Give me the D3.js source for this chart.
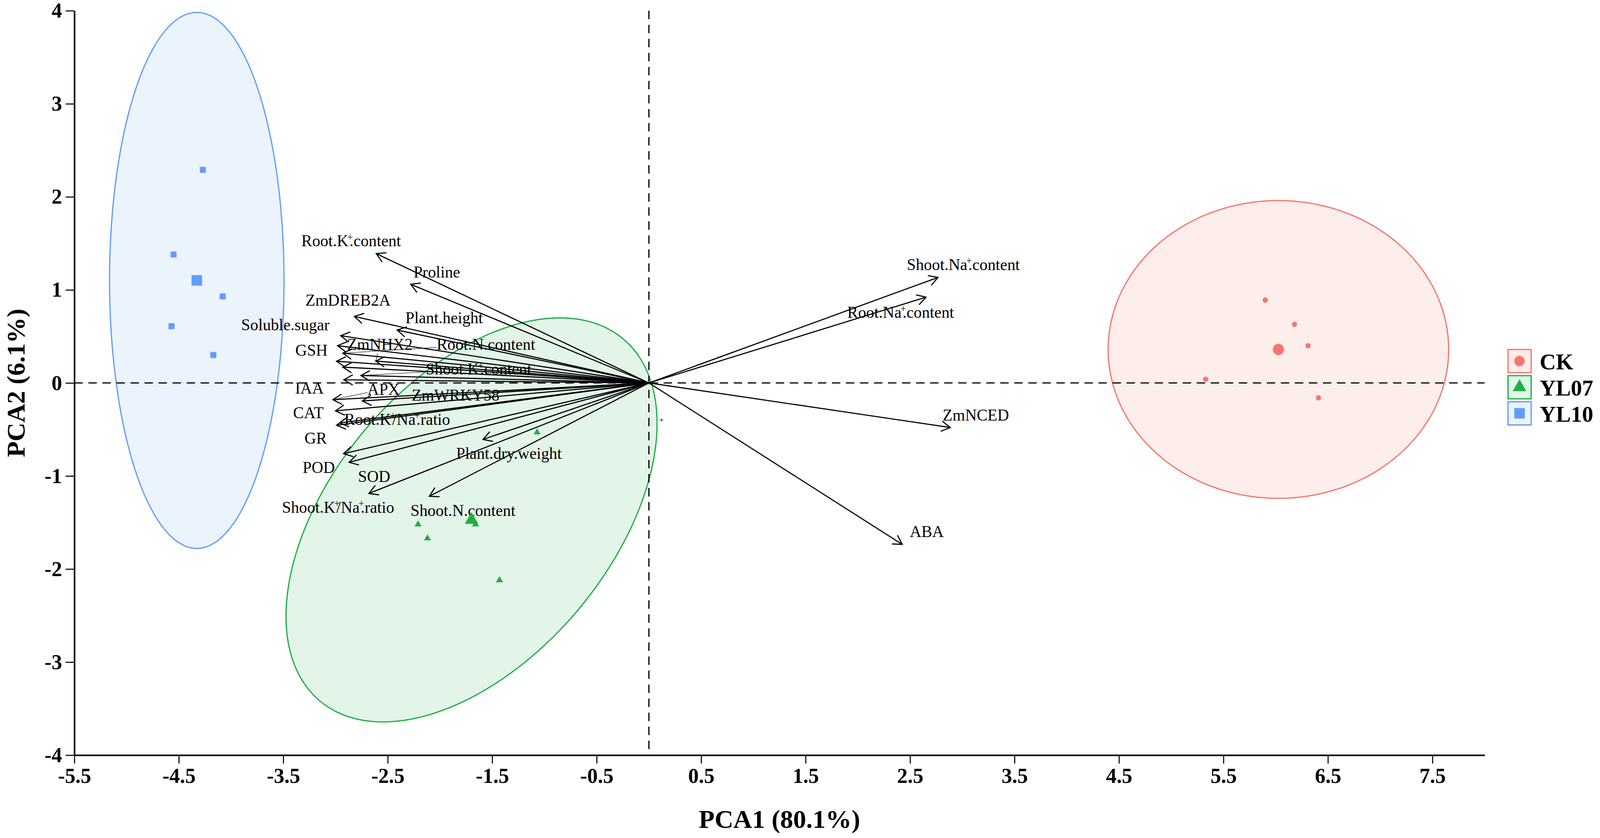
<!DOCTYPE html>
<html lang="en">
<head>
<meta charset="UTF-8">
<title>PCA biplot</title>
<script src="https://cdnjs.cloudflare.com/ajax/libs/d3/7.8.5/d3.min.js"></script>
<style>
  html, body { margin: 0; padding: 0; background: #fff; width: 100%; height: 100%; overflow: hidden; }
  svg { display: block; }
  text { font-family: "Liberation Serif", "Times New Roman", serif; }
</style>
</head>
<body>
<svg id="chart"></svg>
<script>
// ---- values ----
const groups = ["CK", "YL07", "YL10"];
const groupColor = ["#F8766D", "#1DB043", "#619CFF"];
const groupFill = ["#FDEDEB", "#E3F5E8", "#EBF3FD"];

// sample scores (PC1, PC2)
const sampleGroup = ["CK", "CK", "CK", "CK", "CK",
                     "YL07", "YL07", "YL07", "YL07", "YL07",
                     "YL10", "YL10", "YL10", "YL10", "YL10"];
const samplePC1 = [5.90, 6.18, 6.31, 5.33, 6.41,
                   -2.21, -2.12, -1.07, -1.43, -1.66,
                   -4.27, -4.55, -4.08, -4.57, -4.17];
const samplePC2 = [0.89, 0.63, 0.40, 0.04, -0.16,
                   -1.52, -1.67, -0.53, -2.12, -1.52,
                   2.29, 1.38, 0.93, 0.61, 0.30];

// confidence ellipse half-extents on each axis and correlation
const ellipseSdX = [1.63, 1.776, 0.835];
const ellipseSdY = [1.60, 2.171, 2.88];
const ellipseRho = [0, 0.477, 0];

// variable loadings ("^" marks a superscript +)
const varNames = ["Root.K^.content", "Proline", "ZmDREB2A", "Plant.height", "Soluble.sugar",
                  "GSH", "ZmNHX2", "Root.N.content", "", "", "Shoot.K^.content", "IAA",
                  "APX", "ZmWRKY58", "CAT", "Root.K^/Na^.ratio", "GR", "POD", "SOD",
                  "Shoot.K^/Na^.ratio", "Shoot.N.content", "Plant.dry.weight",
                  "Shoot.Na^.content", "Root.Na^.content", "ZmNCED", "ABA"];
const varPC1 = [-2.61, -2.28, -2.82, -2.41, -2.95,
                -2.98, -2.615, -2.93, -2.99, -2.93, -2.757, -2.92,
                -3.025, -2.743, -3.0, -2.96, -2.99, -2.923, -2.87,
                -2.68, -2.102, -1.588,
                2.767, 2.653, 2.885, 2.425];
const varPC2 = [1.39, 1.06, 0.715, 0.568, 0.508,
                0.40, 0.235, 0.32, 0.233, 0.17, 0.08, 0.034,
                -0.18, -0.193, -0.30, -0.43, -0.455, -0.76, -0.853,
                -1.187, -1.218, -0.607,
                1.134, 0.922, -0.479, -1.735];
// label anchor (centre, baseline)
const labelPC1 = [-2.85, -2.03, -2.88, -1.96, -3.48,
                  -3.23, -2.575, -1.56, null, null, -1.63, -3.25,
                  -2.54, -1.85, -3.26, -2.41, -3.19, -3.16, -2.63,
                  -2.975, -1.78, -1.34,
                  3.01, 2.41, 3.13, 2.66];
const labelPC2 = [1.47, 1.134, 0.83, 0.643, 0.567,
                  0.294, 0.357, 0.357, null, null, 0.09, -0.113,
                  -0.126, -0.19, -0.378, -0.449, -0.651, -0.966, -1.063,
                  -1.394, -1.428, -0.815,
                  1.214, 0.701, -0.403, -1.655];
const labelLeader = ["ZmNHX2", "Root.N.content", "Shoot.K^.content", "APX", "ZmWRKY58"];

// small supplementary mark
const plusMark = [0.12, -0.40];

const xTicks = [-5.5, -4.5, -3.5, -2.5, -1.5, -0.5, 0.5, 1.5, 2.5, 3.5, 4.5, 5.5, 6.5, 7.5];
const yTicks = [-4, -3, -2, -1, 0, 1, 2, 3, 4];

// ---- layout: designed on a 4562 x 2144 frame, stretched to the real viewport ----
const baseW = 4562, baseH = 2144;
const W = window.innerWidth || baseW, H = window.innerHeight || baseH;
const sx = W / baseW, sy = H / baseH, f = Math.min(sx, sy);
const px = v => v * sx, py = v => v * sy, fs = v => v * f;

const svg = d3.select("#chart").attr("width", W).attr("height", H);

const x = d3.scaleLinear().domain([-5.5, 8.0]).range([px(212), px(4233)]);
const y = d3.scaleLinear().domain([-4, 4]).range([py(1932), py(27.5)]);

const samples = samplePC1.map((v, i) => ({ g: sampleGroup[i], x: v, y: samplePC2[i] }));
const loadings = varNames.map((n, i) => ({
  name: n, x: varPC1[i], y: varPC2[i], lx: labelPC1[i], ly: labelPC2[i]
}));

// ---- ellipses ----
const ellipseLine = d3.line().x(d => x(d[0])).y(d => y(d[1])).curve(d3.curveLinearClosed);
const gEll = svg.append("g");
groups.forEach((g, i) => {
  const pts = samples.filter(s => s.g === g);
  const cx = d3.mean(pts, d => d.x), cy = d3.mean(pts, d => d.y);
  const ex = ellipseSdX[i], ey = ellipseSdY[i], r = ellipseRho[i];
  const ring = d3.range(0, 360, 1).map(a => {
    const t = a * Math.PI / 180;
    return [cx + ex * Math.cos(t), cy + ey * (r * Math.cos(t) + Math.sqrt(1 - r * r) * Math.sin(t))];
  });
  gEll.append("path")
    .attr("d", ellipseLine(ring))
    .attr("fill", groupFill[i])
    .attr("stroke", groupColor[i])
    .attr("stroke-width", fs(3.5));
});

// ---- reference lines through the origin ----
const dash = `${fs(24)},${fs(16)}`;
svg.append("line")
  .attr("x1", x(-5.5)).attr("x2", x(8.0)).attr("y1", y(0)).attr("y2", y(0))
  .attr("stroke", "#000").attr("stroke-width", fs(3.5)).attr("stroke-dasharray", dash);
svg.append("line")
  .attr("x1", x(0)).attr("x2", x(0)).attr("y1", y(4)).attr("y2", y(-4))
  .attr("stroke", "#000").attr("stroke-width", fs(3.5)).attr("stroke-dasharray", dash);

// ---- loading arrows ----
const gArr = svg.append("g").attr("fill", "none").attr("stroke", "#000")
  .attr("stroke-width", fs(3.2)).attr("stroke-linecap", "round");
loadings.forEach(d => {
  const x0 = x(0), y0 = y(0), x1 = x(d.x), y1 = y(d.y);
  const ang = Math.atan2(y1 - y0, x1 - x0);
  const len = fs(28), spread = Math.PI / 6;
  const p = d3.path();
  p.moveTo(x0, y0);
  p.lineTo(x1, y1);
  p.moveTo(x1 - len * Math.cos(ang - spread), y1 - len * Math.sin(ang - spread));
  p.lineTo(x1, y1);
  p.lineTo(x1 - len * Math.cos(ang + spread), y1 - len * Math.sin(ang + spread));
  gArr.append("path").attr("d", p.toString());
});

// ---- loading labels ----
const gLab = svg.append("g").attr("font-size", fs(46)).attr("fill", "#000");
loadings.filter(d => d.name !== "").forEach(d => {
  const t = gLab.append("text")
    .attr("x", x(d.lx)).attr("y", y(d.ly))
    .attr("text-anchor", "middle");
  const parts = d.name.split("^");
  parts.forEach((part, k) => {
    if (k > 0) {
      t.append("tspan").attr("font-size", fs(28)).attr("dy", -fs(17)).attr("dx", -fs(3)).text("+");
      t.append("tspan").attr("dy", fs(17)).attr("dx", -fs(10)).text(part);
    } else {
      t.append("tspan").text(part);
    }
  });
  if (labelLeader.includes(d.name)) {
    // thin segment from the label box edge to its arrow tip
    const b = t.node().getBBox();
    const tx = x(d.x), ty = y(d.y);
    const cx = b.x + b.width / 2, cy = b.y + b.height / 2;
    const dx = tx - cx, dy = ty - cy;
    const s = Math.min(dx ? (b.width / 2) / Math.abs(dx) : Infinity,
                       dy ? (b.height / 2) / Math.abs(dy) : Infinity);
    if (s < 1) {
      svg.insert("line", "g")
        .attr("x1", cx + dx * s).attr("y1", cy + dy * s)
        .attr("x2", tx).attr("y2", ty)
        .attr("stroke", "#222").attr("stroke-width", fs(1.5));
    }
  }
});

svg.append("text")
  .attr("x", x(plusMark[0])).attr("y", y(plusMark[1]))
  .attr("text-anchor", "middle").attr("dominant-baseline", "central")
  .attr("font-size", fs(24)).text("+");

// ---- sample points ----
const symbolType = { CK: d3.symbolCircle, YL07: d3.symbolTriangle, YL10: d3.symbolSquare };
const smallSize = { CK: 180, YL07: 175, YL10: 290 };
const bigSize = { CK: 800, YL07: 640, YL10: 900 };
const gPts = svg.append("g");
gPts.selectAll("path.pt")
  .data(samples)
  .join("path")
  .attr("class", "pt")
  .attr("transform", d => `translate(${x(d.x)},${y(d.y)})`)
  .attr("d", d => d3.symbol(symbolType[d.g], smallSize[d.g] * f * f)())
  .attr("fill", d => groupColor[groups.indexOf(d.g)]);
// group centroids drawn larger
gPts.selectAll("path.centroid")
  .data(groups)
  .join("path")
  .attr("class", "centroid")
  .attr("transform", g => {
    const pts = samples.filter(s => s.g === g);
    return `translate(${x(d3.mean(pts, d => d.x))},${y(d3.mean(pts, d => d.y))})`;
  })
  .attr("d", g => d3.symbol(symbolType[g], bigSize[g] * f * f)())
  .attr("fill", (g, i) => groupColor[i]);

// ---- axes ----
const xAxis = svg.append("g")
  .attr("transform", `translate(0,${y(-4)})`)
  .call(d3.axisBottom(x).tickValues(xTicks).tickSize(fs(24)).tickSizeOuter(0).tickPadding(fs(12))
    .tickFormat(d => d3.format(".1f")(d).replace("\u2212", "-")));
const yAxis = svg.append("g")
  .attr("transform", `translate(${x(-5.5)},0)`)
  .call(d3.axisLeft(y).tickValues(yTicks).tickSize(fs(25)).tickSizeOuter(0).tickPadding(fs(10))
    .tickFormat(d => String(d)));
[xAxis, yAxis].forEach(a => {
  a.select(".domain").attr("stroke-width", fs(4.5));
  a.selectAll(".tick line").attr("stroke-width", fs(3));
  a.selectAll(".tick text")
    .attr("font-family", "'Liberation Serif', 'Times New Roman', serif")
    .attr("font-weight", "bold").attr("font-size", fs(60)).attr("fill", "#000");
});

svg.append("text")
  .attr("x", (x(-5.5) + x(8.0)) / 2).attr("y", py(2118))
  .attr("text-anchor", "middle").attr("font-weight", "bold").attr("font-size", fs(74))
  .text("PCA1 (80.1%)");
svg.append("text")
  .attr("transform", `translate(${px(70)},${y(0)}) rotate(-90)`)
  .attr("text-anchor", "middle").attr("font-weight", "bold").attr("font-size", fs(74))
  .text("PCA2 (6.1%)");

// ---- legend ----
const legend = svg.append("g")
  .attr("transform", `translate(${px(4298)},${py(993) - fs(74.5 * 1.5)})`);
groups.forEach((g, i) => {
  const row = legend.append("g").attr("transform", `translate(0,${i * fs(74.5)})`);
  row.append("rect")
    .attr("x", fs(1.75)).attr("y", fs(1.75)).attr("width", fs(66)).attr("height", fs(66))
    .attr("fill", groupFill[i]).attr("stroke", groupColor[i]).attr("stroke-width", fs(3.5));
  row.append("path")
    .attr("transform", `translate(${fs(34.5)},${fs(34.5)})`)
    .attr("d", d3.symbol(symbolType[g], [700, 660, 900][i] * f * f)())
    .attr("fill", groupColor[i]);
  row.append("text")
    .attr("x", fs(92)).attr("y", fs(58))
    .attr("font-weight", "bold").attr("font-size", fs(64))
    .text(g);
});
</script>
</body>
</html>
